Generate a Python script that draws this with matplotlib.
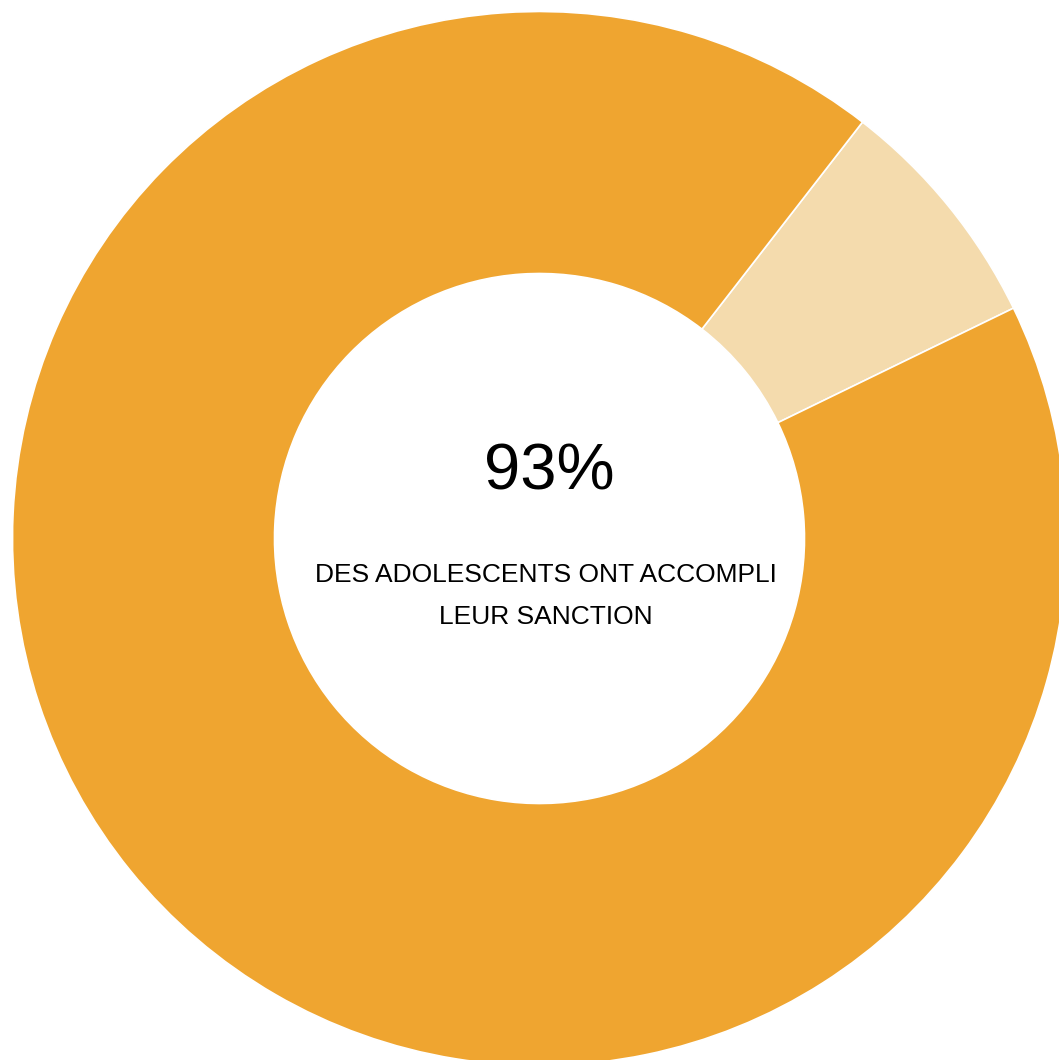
import matplotlib
matplotlib.use('Agg')
from matplotlib import pyplot as plt

# share of adolescents: light slice first so it sits in the upper right
labels = ['Non accomplie', 'Accomplie']
values = [7.3, 92.7]
colors = ['#F4DBAD', '#EFA530']
big_label = '93%'
caption = ['DES ADOLESCENTS ONT ACCOMPLI', 'LEUR SANCTION']

W, H, DPI = 1059, 1060, 100
cx, cy, R = 539.5, 538.5, 527.0   # pie centre and outer radius, in pixels
inner = 265.0

plt.rcParams['font.family'] = ['Liberation Sans', 'DejaVu Sans']

fig = plt.figure(figsize=(W / DPI, H / DPI), dpi=DPI)
ax = fig.add_axes([0, 0, 1, 1])
ax.pie(values, colors=colors, startangle=52.2, counterclock=False,
       radius=1.0, wedgeprops=dict(width=1 - inner / R, edgecolor='white', linewidth=1.2))
ax.set_xlim(-cx / R, (W - cx) / R)
ax.set_ylim(-(H - cy) / R, cy / R)
ax.set_aspect('equal')
ax.axis('off')

fig.text(549 / W, 1 - 490 / H, big_label, ha='center', va='baseline', fontsize=47, color='black')
for i, line in enumerate(caption):
    fig.text(546 / W, 1 - (582 + 42 * i) / H, line, ha='center', va='baseline',
             fontsize=19, color='black')

plt.savefig('out.png', dpi=DPI)
